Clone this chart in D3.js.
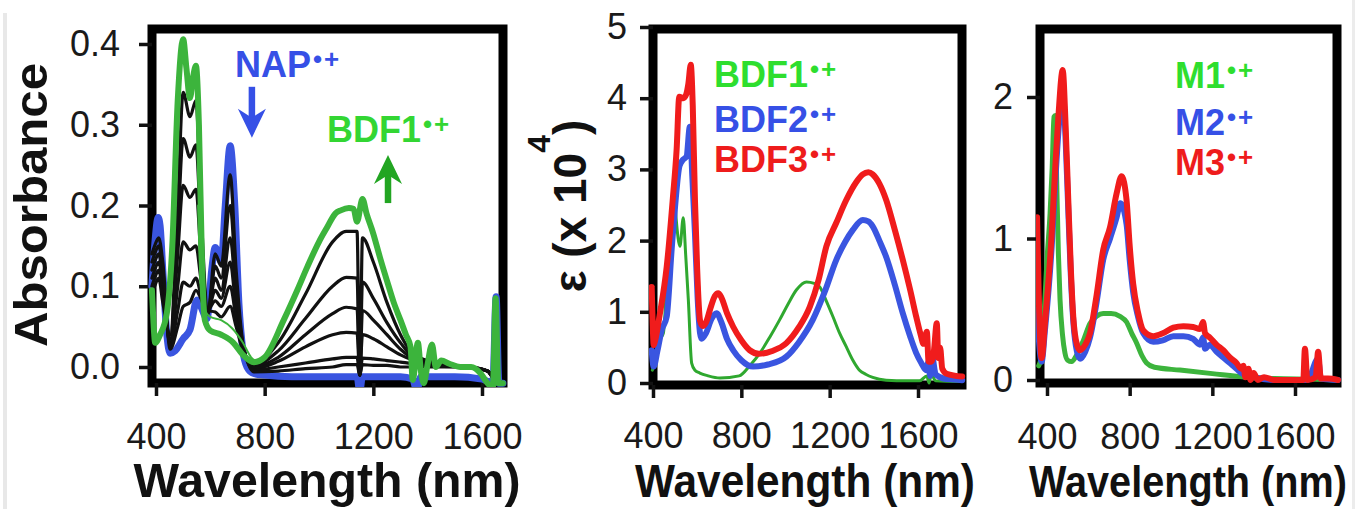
<!DOCTYPE html>
<html>
<head>
<meta charset="utf-8">
<script src="https://cdn.jsdelivr.net/npm/d3@7"></script>
<style>
  body { margin: 0; background: #fff; }
  text { font-family: "Liberation Sans", Arial, sans-serif; }
</style>
</head>
<body>
<script>
const W = 1357, H = 509;

// tick values
const nmTicks = [400, 800, 1200, 1600];
const absTicks = [0, 0.1, 0.2, 0.3, 0.4];
const epsTicks = [0, 1, 2, 3, 4, 5];
const mTicks = [0, 1, 2];

// ---- panel 1: titration NAP -> BDF1 (absorbance) ----
const napSpectrum = [[385,0.10],[395,0.15],[408,0.185],[415,0.175],[425,0.12],[440,0.04],[452,0.017],[470,0.02],
  [500,0.035],[525,0.046],[551,0.083],[565,0.075],[588,0.06],[605,0.12],[618,0.148],[630,0.14],[640,0.13],[655,0.2],
  [673,0.274],[690,0.2],[705,0.08],[720,0.02],[735,0.0],[760,-0.008],[800,-0.01],[900,-0.012],[1000,-0.012],
  [1140,-0.012],[1150,-0.03],[1160,-0.012],[1300,-0.012],[1345,-0.015],[1360,-0.03],[1375,-0.012],[1500,-0.012],
  [1600,-0.015],[1640,-0.02],[1652,0.087],[1662,-0.02],[1677,-0.02]];

const bdf1Absorbance = [[385,0.095],[390,0.06],[397,0.03],[415,0.04],[440,0.067],[460,0.15],[480,0.33],[500,0.406],
  [512,0.37],[525,0.333],[537,0.36],[547,0.373],[558,0.3],[570,0.12],[580,0.058],[600,0.045],[640,0.04],[685,0.03],
  [720,0.015],[760,0.006],[800,0.012],[870,0.058],[920,0.095],[957,0.124],[1000,0.155],[1030,0.173],[1060,0.19],
  [1080,0.194],[1110,0.197],[1127,0.196],[1140,0.18],[1160,0.208],[1175,0.19],[1200,0.165],[1225,0.135],
  [1250,0.107],[1275,0.08],[1300,0.058],[1320,0.04],[1337,0.025],[1345,-0.016],[1364,0.03],[1375,-0.005],
  [1386,-0.02],[1398,0.0],[1416,0.028],[1430,0.0],[1450,0.008],[1480,0.004],[1520,0.0],[1560,0.0],[1595,-0.008],
  [1620,-0.02],[1640,-0.025],[1650,0.085],[1660,-0.02],[1677,-0.02]];

const nearlyBdf1 = [[555,0.2],[565,0.1],[575,0.075],[600,0.062],[640,0.058],[680,0.048],[720,0.03],[750,0.012],[780,0.006]];

const titrationNm = [385,395,410,425,452,480,500,525,547,565,590,618,640,673,695,720,760,850,950,1050,1100,1140,
  1150,1160,1200,1250,1300,1350,1450,1550,1620,1645,1677];
const step1 = [0.09,0.10,0.11,0.08,0.040,0.20,0.340,0.310,0.330,0.20,0.070,0.068,0.062,0.075,0.050,0.020,0.004,
  0.030,0.090,0.155,0.168,0.168,-0.01,0.160,0.130,0.080,0.040,0.015,0.004,0.0,-0.005,-0.015,-0.02];
const step2 = [0.10,0.11,0.12,0.09,0.035,0.17,0.283,0.260,0.275,0.17,0.070,0.082,0.075,0.100,0.060,0.022,0.002,
  0.020,0.060,0.100,0.111,0.110,-0.01,0.105,0.085,0.055,0.030,0.012,0.004,0.0,-0.005,-0.015,-0.02];
const step3 = [0.11,0.12,0.13,0.10,0.030,0.14,0.225,0.210,0.220,0.14,0.068,0.095,0.085,0.130,0.070,0.024,0.000,
  0.012,0.040,0.066,0.074,0.072,-0.01,0.070,0.058,0.040,0.022,0.010,0.003,0.0,-0.005,-0.015,-0.02];
const step4 = [0.12,0.13,0.14,0.11,0.028,0.10,0.155,0.145,0.150,0.11,0.066,0.110,0.095,0.160,0.085,0.026,-0.002,
  0.007,0.025,0.040,0.043,0.042,-0.01,0.040,0.035,0.025,0.015,0.008,0.002,0.0,-0.005,-0.015,-0.02];
const step5 = [0.13,0.14,0.15,0.12,0.025,0.07,0.105,0.100,0.110,0.09,0.065,0.125,0.110,0.200,0.100,0.028,-0.004,
  0.000,0.005,0.010,0.012,0.012,-0.01,0.011,0.010,0.008,0.006,0.004,0.001,0.0,-0.005,-0.015,-0.02];
const step6 = [0.14,0.15,0.16,0.13,0.022,0.05,0.075,0.080,0.095,0.085,0.065,0.140,0.125,0.238,0.120,0.030,-0.006,
  -0.005,-0.002,0.000,0.003,0.003,-0.01,0.003,0.002,0.002,0.000,0.000,0.000,0.0,-0.005,-0.015,-0.02];
const titrationSteps = [step1, step2, step3, step4, step5, step6];

// ---- panel 2: extinction of BDF1-3 radical cations (x 10^4) ----
const bdf1Eps = [[397,0.18],[410,0.3],[430,0.6],[447,0.7],[465,1.6],[484,2.39],[495,2.72],[505,2.3],[522,1.92],
  [537,2.32],[548,1.8],[560,1.17],[575,0.28],[590,0.18],[612,0.14],[650,0.1],[703,0.07],[790,0.1],[840,0.25],
  [884,0.42],[930,0.65],[974,0.89],[1010,1.1],[1050,1.31],[1095,1.42],[1130,1.4],[1155,1.35],[1185,1.15],
  [1215,0.93],[1245,0.7],[1275,0.51],[1305,0.32],[1335,0.18],[1365,0.12],[1395,0.08],[1456,0.04],[1550,0.03],
  [1607,0.03],[1640,0.1],[1650,0.0],[1660,0.12],[1680,0.03],[1800,0.02]];
const bdf2Eps = [[394,0.46],[403,0.23],[420,0.45],[440,0.75],[462,0.93],[485,1.9],[500,2.48],[520,3.05],[537,3.14],
  [552,3.18],[567,3.6],[578,2.9],[590,2.1],[602,1.2],[613,0.7],[620,0.62],[640,0.7],[665,0.9],[688,0.98],[710,0.85],
  [735,0.62],[763,0.46],[800,0.32],[853,0.23],[920,0.26],[1004,0.37],[1060,0.57],[1124,0.89],[1180,1.3],
  [1230,1.73],[1270,1.98],[1305,2.15],[1350,2.29],[1375,2.27],[1395,2.2],[1425,2.0],[1456,1.77],[1495,1.38],
  [1531,0.98],[1565,0.65],[1592,0.42],[1615,0.28],[1637,0.18],[1648,0.3],[1655,0.1],[1665,0.35],[1680,0.12],
  [1720,0.06],[1760,0.05],[1800,0.04]];
const bdf3Eps = [[394,1.35],[398,0.9],[403,0.53],[410,0.6],[430,0.95],[462,1.63],[490,2.6],[507,3.28],[519,4.02],
  [537,4.0],[550,4.05],[560,4.2],[571,4.47],[580,3.9],[590,2.57],[600,1.6],[613,0.88],[625,0.8],[640,0.85],
  [660,1.05],[680,1.22],[695,1.26],[710,1.2],[735,0.98],[763,0.79],[800,0.6],[838,0.46],[880,0.41],[940,0.45],
  [1004,0.56],[1060,0.78],[1110,1.07],[1150,1.45],[1185,1.92],[1230,2.25],[1275,2.57],[1320,2.82],[1350,2.93],
  [1375,2.96],[1395,2.93],[1425,2.8],[1456,2.57],[1495,2.15],[1531,1.73],[1565,1.3],[1592,0.93],[1612,0.68],
  [1625,0.55],[1640,0.72],[1648,0.3],[1660,0.3],[1672,0.45],[1685,0.84],[1692,0.35],[1700,0.5],[1710,0.2],
  [1730,0.13],[1800,0.09]];

// ---- panel 3: M1-M3 radical cations (x 10^4) ----
const m1Eps = [[360,0.1],[370,0.15],[390,0.57],[400,0.85],[415,1.18],[425,1.5],[434,1.86],[440,1.87],[447,1.4],
  [455,0.9],[463,0.57],[475,0.32],[487,0.19],[500,0.14],[519,0.13],[545,0.18],[576,0.28],[608,0.4],[640,0.45],
  [672,0.47],[710,0.47],[753,0.45],[785,0.41],[810,0.33],[834,0.26],[860,0.17],[882,0.12],[920,0.09],[1043,0.07],
  [1200,0.045],[1365,0.02],[1500,0.01],[1700,0.005],[1808,0.0]];
const m2Eps = [[352,0.5],[360,0.3],[374,0.13],[390,0.35],[423,0.95],[440,1.4],[455,1.75],[476,2.05],[490,1.7],
  [503,1.2],[515,0.75],[527,0.42],[545,0.2],[560,0.15],[585,0.2],[608,0.3],[640,0.55],[672,0.85],[705,1.0],
  [737,1.15],[755,1.25],[785,1.1],[800,0.85],[817,0.62],[840,0.45],[866,0.33],[914,0.27],[960,0.28],[1011,0.31],
  [1060,0.31],[1107,0.29],[1140,0.25],[1155,0.3],[1165,0.22],[1188,0.25],[1220,0.2],[1253,0.16],[1285,0.12],
  [1317,0.08],[1340,0.05],[1400,0.02],[1500,0.0],[1640,0.0],[1660,0.0],[1712,0.15],[1725,0.01],[1808,0.0]];
const m3Eps = [[352,1.15],[360,0.6],[374,0.155],[390,0.4],[423,1.04],[440,1.5],[455,1.86],[476,2.19],[490,1.8],
  [503,1.27],[515,0.8],[527,0.45],[545,0.25],[560,0.21],[585,0.25],[608,0.33],[640,0.6],[672,0.92],[705,1.08],
  [737,1.32],[761,1.44],[785,1.27],[800,0.95],[817,0.68],[840,0.48],[866,0.35],[914,0.31],[960,0.33],[1011,0.37],
  [1060,0.38],[1107,0.375],[1140,0.36],[1155,0.41],[1165,0.33],[1188,0.3],[1220,0.25],[1253,0.21],[1285,0.16],
  [1317,0.12],[1340,0.08],[1350,0.1],[1360,0.02],[1375,0.08],[1385,0.0],[1400,0.05],[1420,0.0],[1450,0.02],
  [1500,0.0],[1600,0.0],[1640,0.0],[1648,0.22],[1660,0.0],[1700,0.02],[1712,0.2],[1725,0.01],[1760,0.01],[1808,0.0]];

// annotation arrows (wavelength, from value, to value)
const napArrow = [753, 0.347, 0.284];
const bdfArrow = [1254, 0.203, 0.2625];

const BLUE = "#3a55e0", RED = "#f01c1c", GREEN = "#3cb43c";

const svg = d3.select("body").append("svg")
    .attr("width", W)
    .attr("height", H);

// faint scan borders
svg.append("rect").attr("x", 3).attr("y", 13).attr("width", 4).attr("height", H - 13).attr("fill", "#e8e8e8");
svg.append("rect").attr("x", 1352).attr("y", 0).attr("width", 3).attr("height", H).attr("fill", "#ececec");

function label(g, txt, x, y, color, size) {
    const t = g.append("text")
        .attr("x", x)
        .attr("y", y)
        .attr("fill", color)
        .attr("font-size", size)
        .attr("font-weight", "bold");
    t.append("tspan").text(txt);
    t.append("tspan")
        .attr("font-size", size * 0.72)
        .attr("dy", -size * 0.24)
        .attr("dx", 2)
        .attr("letter-spacing", 2)
        .text("•+");
}

// squeeze a text horizontally to a target width (keeps its real bbox)
function fitText(t, cx, cy, len, rotate) {
    const natural = t.node().getComputedTextLength();
    const s = len / natural;
    t.attr("transform", `translate(${cx},${cy})${rotate ? " rotate(-90)" : ""} scale(${s},1)`);
}

function drawPanel(p, idx) {
    const g = svg.append("g");
    const [fx0, fy0, fx1, fy1] = p.frame;

    const x = d3.scaleLinear().domain([400, 1600]).range(p.xRange);
    const y = d3.scaleLinear().domain(p.yDomain).range(p.yRange);

    // frame
    g.append("rect")
        .attr("x", fx0).attr("y", fy0)
        .attr("width", fx1 - fx0).attr("height", fy1 - fy0)
        .attr("fill", "none")
        .attr("stroke", "#000")
        .attr("stroke-width", 9);

    // axes
    const yAxis = d3.axisLeft(y)
        .tickValues(p.yTicks)
        .tickFormat(p.yFormat)
        .tickSize(13)
        .tickSizeOuter(0)
        .tickPadding(p.yPad);

    const xAxis = d3.axisBottom(x)
        .tickValues(nmTicks)
        .tickFormat(d3.format("d"))
        .tickSize(13)
        .tickSizeOuter(0)
        .tickPadding(p.xPad);

    [g.append("g").attr("transform", `translate(${fx0},0)`).call(yAxis),
     g.append("g").attr("transform", `translate(0,${fy1})`).call(xAxis)]
        .forEach(a => {
            a.attr("font-size", 36).attr("font-family", '"Liberation Sans", Arial, sans-serif');
            a.select(".domain").remove();
            a.selectAll("line").attr("stroke", "#111").attr("stroke-width", 3.5);
            a.selectAll("text").attr("fill", "#1a1a1a");
        });

    // curves, drawn over the frame but clipped to it
    const clipId = "clip" + idx;
    svg.append("clipPath").attr("id", clipId)
        .append("rect")
        .attr("x", fx0 - 4).attr("y", fy0 - 4)
        .attr("width", fx1 - fx0 + 8).attr("height", fy1 - fy0 + 8);

    const line = d3.line()
        .x(d => x(d[0]))
        .y(d => y(d[1]))
        .curve(d3.curveMonotoneX);

    const curves = g.append("g").attr("clip-path", `url(#${clipId})`);
    p.series.forEach(s => {
        curves.append("path")
            .datum(s.data)
            .attr("d", line)
            .attr("fill", "none")
            .attr("stroke", s.color)
            .attr("stroke-width", s.width)
            .attr("stroke-linejoin", "round")
            .attr("stroke-linecap", "round");
    });

    p.labels.forEach(l => label(g, l.text, l.x, l.y, l.color, l.size));

    // x axis title
    const xt = g.append("text")
        .attr("text-anchor", "middle")
        .attr("font-size", p.xTitle.size)
        .attr("font-weight", "bold")
        .attr("fill", "#111")
        .text("Wavelength (nm)");
    fitText(xt, p.xTitle.x, 497, p.xTitle.len, false);

    return { g, x, y };
}

// panel 1
const p1 = drawPanel({
    frame: [152, 29, 503, 383],
    xRange: [156, 482],
    yDomain: [0, 0.4], yRange: [367, 44],
    yTicks: absTicks, yFormat: d3.format(".1f"), yPad: 19, xPad: 27,
    series: [
        { data: napSpectrum, color: BLUE, width: 7 },
        ...titrationSteps.map(vals => ({
            data: vals.map((v, i) => [titrationNm[i], v]),
            color: "#111", width: 3.2
        })),
        { data: nearlyBdf1, color: GREEN, width: 2 },
        { data: bdf1Absorbance, color: GREEN, width: 6 }
    ],
    labels: [
        { text: "NAP", x: 235, y: 77, color: "#3650e6", size: 36 },
        { text: "BDF1", x: 327, y: 142, color: "#33d633", size: 36 }
    ],
    xTitle: { x: 327, size: 48, len: 387 }
}, 1);

// arrows in panel 1
function arrow(g, x, y, a, color) {
    const tx = x(a[0]), y0 = y(a[1]), ty = y(a[2]);
    const dir = ty > y0 ? 1 : -1;
    g.append("line")
        .attr("x1", tx).attr("x2", tx)
        .attr("y1", y0).attr("y2", ty - dir * 18)
        .attr("stroke", color)
        .attr("stroke-width", 6.5);
    g.append("path")
        .attr("d", `M${tx},${ty} L${tx - 14},${ty - dir * 29} L${tx},${ty - dir * 20} L${tx + 14},${ty - dir * 29} Z`)
        .attr("fill", color);
}
arrow(p1.g, p1.x, p1.y, napArrow, "#3650e6");
arrow(p1.g, p1.x, p1.y, bdfArrow, "#22a522");

const absTitle = p1.g.append("text")
    .attr("text-anchor", "middle")
    .attr("font-size", 47)
    .attr("font-weight", "bold")
    .attr("fill", "#111")
    .text("Absorbance");
fitText(absTitle, 47, 205, 284, true);

// panel 2
const p2 = drawPanel({
    frame: [653, 29, 962, 385],
    xRange: [653, 918],
    yDomain: [0, 5], yRange: [383, 27],
    yTicks: epsTicks, yFormat: d3.format("d"), yPad: 13, xPad: 24,
    series: [
        { data: bdf1Eps, color: "#2fa82f", width: 3 },
        { data: bdf2Eps, color: BLUE, width: 6 },
        { data: bdf3Eps, color: RED, width: 6 }
    ],
    labels: [
        { text: "BDF1", x: 714, y: 87, color: "#2ede2e", size: 36 },
        { text: "BDF2", x: 714, y: 132, color: "#3650e6", size: 36 },
        { text: "BDF3", x: 714, y: 172, color: "#ee1c1c", size: 36 }
    ],
    xTitle: { x: 805, size: 46, len: 340 }
}, 2);

const eps = p2.g.append("text")
    .attr("transform", "translate(586,206) rotate(-90)")
    .attr("text-anchor", "middle")
    .attr("font-size", 46)
    .attr("font-weight", "bold")
    .attr("fill", "#111");
eps.append("tspan").text("ε (x 10");
eps.append("tspan").attr("font-size", 32).attr("dy", -36).text("4");
eps.append("tspan").attr("dy", 36).text(")");

// panel 3
drawPanel({
    frame: [1040, 29, 1337, 383],
    xRange: [1047, 1295],
    yDomain: [0, 2], yRange: [380, 97],
    yTicks: mTicks, yFormat: d3.format("d"), yPad: 14, xPad: 27,
    series: [
        { data: m1Eps, color: GREEN, width: 5 },
        { data: m2Eps, color: BLUE, width: 6 },
        { data: m3Eps, color: RED, width: 6 }
    ],
    labels: [
        { text: "M1", x: 1175, y: 88, color: "#2ede2e", size: 36 },
        { text: "M2", x: 1175, y: 135, color: "#3650e6", size: 36 },
        { text: "M3", x: 1175, y: 175, color: "#ee1c1c", size: 36 }
    ],
    xTitle: { x: 1188, size: 45, len: 318 }
}, 3);
</script>
</body>
</html>
